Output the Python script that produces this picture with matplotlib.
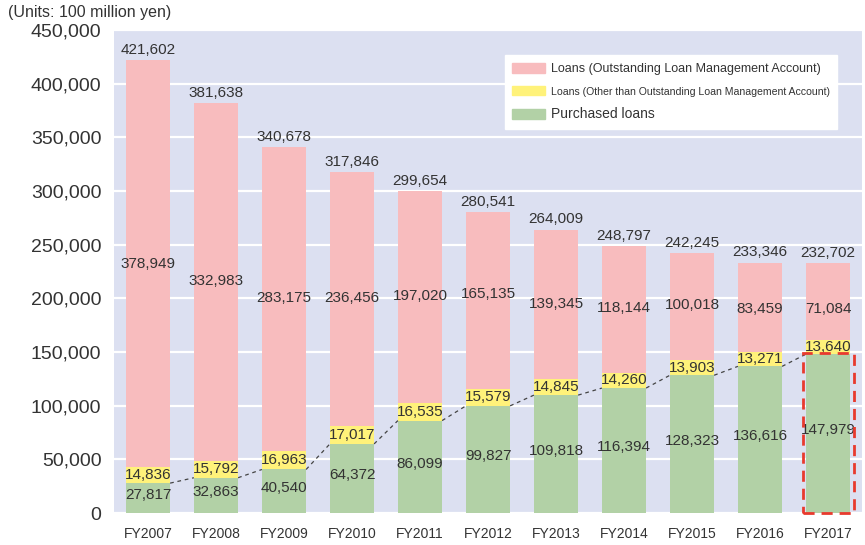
import matplotlib.pyplot as plt
import matplotlib.patches as mpatches
import numpy as np

plt.rcParams['font.family'] = ['Liberation Sans', 'DejaVu Sans']

years = ["FY2007", "FY2008", "FY2009", "FY2010", "FY2011", "FY2012",
         "FY2013", "FY2014", "FY2015", "FY2016", "FY2017"]
purchased = [27817, 32863, 40540, 64372, 86099, 99827, 109818, 116394, 128323, 136616, 147979]
loans_other = [14836, 15792, 16963, 17017, 16535, 15579, 14845, 14260, 13903, 13271, 13640]
loans_olma = [378949, 332983, 283175, 236456, 197020, 165135, 139345, 118144, 100018, 83459, 71084]
totals = [421602, 381638, 340678, 317846, 299654, 280541, 264009, 248797, 242245, 233346, 232702]

# where the pink-segment labels sit (layout only)
pink_label_y = [232000, 216000, 200000, 200000, 202000, 204000,
                195000, 191000, 194000, 190000, 190000]

c_pink = "#f8bcbe"
c_yellow = "#fff27a"
c_green = "#b2d1a6"
c_bg = "#dce0f1"
c_text = "#333333"

fig = plt.figure(figsize=(8.65, 5.45), dpi=100)
ax = fig.add_axes([114 / 865, 1 - 513 / 545, 748 / 865, 483 / 545])
ax.set_facecolor(c_bg)

x = np.arange(len(years))
w = 0.65
green = np.array(purchased)
yellow = np.array(loans_other)
pink = np.array(loans_olma)

ax.bar(x, green, w, color=c_green, zorder=2)
ax.bar(x, yellow, w, bottom=green, color=c_yellow, zorder=2)
ax.bar(x, pink, w, bottom=green + yellow, color=c_pink, zorder=2)

# dashed line linking green tops
for i in range(len(x) - 1):
    ax.plot([x[i] + w / 2, x[i + 1] - w / 2], [green[i], green[i + 1]],
            ls=(0, (3, 3)), color="#444444", lw=0.9, zorder=3)

# labels
for i in range(len(x)):
    ax.text(x[i], totals[i] + 3000, f"{totals[i]:,}", ha="center", va="bottom",
            fontsize=11, color=c_text, zorder=4)
    ax.text(x[i], pink_label_y[i], f"{loans_olma[i]:,}", ha="center", va="center",
            fontsize=11, color=c_text, zorder=4)
    ax.text(x[i], green[i] + yellow[i] / 2, f"{loans_other[i]:,}", ha="center",
            va="center", fontsize=11, color=c_text, zorder=4)
    gy = max(green[i] / 2 + 3000, 16000)
    ax.text(x[i], gy, f"{purchased[i]:,}", ha="center", va="center",
            fontsize=11, color=c_text, zorder=4)

# red dashed highlight on last bar
last = len(x) - 1
rect = mpatches.Rectangle((x[last] - w / 2 - 0.05, 0), w + 0.1, green[last] + 1000,
                          fill=False, edgecolor="#e83a2e", lw=2,
                          ls=(0, (4, 2.5)), zorder=5, clip_on=False)
ax.add_patch(rect)

ax.set_xlim(-0.5, len(x) - 0.5)
ax.set_ylim(0, 450000)
ax.set_yticks(np.arange(0, 450001, 50000))
ax.yaxis.set_major_formatter(plt.FuncFormatter(lambda v, p: f"{int(v):,}"))
ax.set_xticks(x)
ax.set_xticklabels(years, fontsize=10, color=c_text)
ax.tick_params(axis="y", labelsize=14, colors=c_text, length=0, pad=9)
ax.tick_params(axis="x", length=0, pad=10)
for s in ax.spines.values():
    s.set_visible(False)
ax.grid(axis="y", color="white", lw=1.6, zorder=1)
ax.set_axisbelow(True)

handles = [mpatches.Patch(color=c_pink), mpatches.Patch(color=c_yellow),
           mpatches.Patch(color=c_green)]
labels = ["Loans (Outstanding Loan Management Account)",
          "Loans (Other than Outstanding Loan Management Account)",
          "Purchased loans"]
leg = ax.legend(handles, labels, loc="upper right", bbox_to_anchor=(0.972, 0.955),
                fontsize=9, frameon=True, fancybox=False, edgecolor="white",
                framealpha=1, handlelength=2.6, handleheight=0.8,
                handletextpad=0.5, labelspacing=0.85, borderpad=0.6,
                borderaxespad=0.3)
leg.get_texts()[1].set_fontsize(7.6)
leg.get_texts()[2].set_fontsize(10)
for t in leg.get_texts():
    t.set_color(c_text)

fig.text(8 / 865, 1 - 13 / 545, "(Units: 100 million yen)", fontsize=11.5,
         color=c_text, ha="left", va="center")

fig.savefig("out.png", dpi=100)
